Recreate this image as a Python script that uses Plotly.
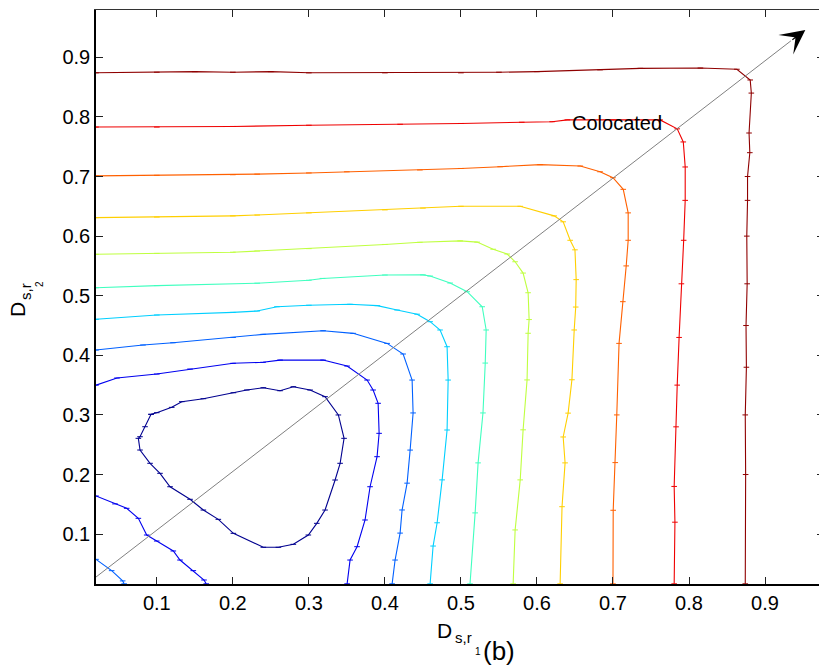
import plotly.graph_objects as go

# ---- contour paths (x = D_s,r1, y = D_s,r2), one list pair per level ----
lvl10_x = [0.02, 0.10, 0.15, 0.20, 0.25, 0.30, 0.40, 0.50, 0.55, 0.60, 0.683, 0.736, 0.815, 0.863,
           0.8805, 0.882, 0.879, 0.880, 0.877, 0.877, 0.876, 0.8765, 0.875, 0.8755, 0.874, 0.8745, 0.874]
lvl10_y = [0.874, 0.875, 0.876, 0.875, 0.876, 0.874, 0.874, 0.874, 0.875, 0.876, 0.879, 0.8815, 0.882, 0.880,
           0.862, 0.840, 0.773, 0.740, 0.700, 0.660, 0.600, 0.520, 0.450, 0.380, 0.300, 0.200, 0.0166]

lvl9_x = [0.02, 0.10, 0.20, 0.30, 0.42, 0.50, 0.58, 0.62, 0.64, 0.70, 0.762, 0.7845, 0.7925, 0.795,
          0.795, 0.793, 0.790, 0.787, 0.7845, 0.783, 0.7805, 0.7815, 0.7805]
lvl9_y = [0.783, 0.783, 0.784, 0.786, 0.7876, 0.789, 0.791, 0.792, 0.795, 0.795, 0.795, 0.780, 0.758, 0.716,
          0.660, 0.593, 0.520, 0.430, 0.350, 0.280, 0.180, 0.120, 0.0166]

lvl8_x = [0.02, 0.10, 0.20, 0.232, 0.30, 0.35, 0.446, 0.50, 0.5516, 0.604, 0.657, 0.683, 0.700, 0.7135,
          0.720, 0.720, 0.7174, 0.713, 0.708, 0.705, 0.703, 0.7003, 0.700]
lvl8_y = [0.701, 0.702, 0.703, 0.704, 0.706, 0.708, 0.711, 0.7135, 0.7165, 0.720, 0.7176, 0.708, 0.698, 0.6785,
          0.639, 0.593, 0.550, 0.490, 0.420, 0.300, 0.220, 0.140, 0.0166]

lvl7_x = [0.02, 0.10, 0.20, 0.232, 0.30, 0.40, 0.45, 0.50, 0.578, 0.6226, 0.6345, 0.6437, 0.650, 0.6516,
          0.651, 0.649, 0.646, 0.641, 0.6345, 0.637, 0.633, 0.6305]
lvl7_y = [0.631, 0.632, 0.634, 0.6354, 0.639, 0.644, 0.647, 0.650, 0.650, 0.634, 0.624, 0.593, 0.577, 0.527,
          0.481, 0.4425, 0.359, 0.303, 0.263, 0.2195, 0.146, 0.0166]

lvl6_x = [0.02, 0.10, 0.20, 0.232, 0.30, 0.40, 0.446, 0.499, 0.5213, 0.5424, 0.5608, 0.5713, 0.5818,
          0.5884, 0.5897, 0.5884, 0.587, 0.5818, 0.578, 0.5713, 0.5687]
lvl6_y = [0.5695, 0.571, 0.573, 0.575, 0.579, 0.586, 0.5896, 0.592, 0.590, 0.578, 0.570, 0.557, 0.538,
          0.505, 0.460, 0.437, 0.3587, 0.275, 0.191, 0.107, 0.0166]

lvl5_x = [0.02, 0.10, 0.232, 0.30, 0.318, 0.40, 0.45, 0.4595, 0.4858, 0.5082, 0.528, 0.5332, 0.532,
          0.529, 0.5226, 0.5187, 0.512]
lvl5_y = [0.5134, 0.517, 0.521, 0.526, 0.529, 0.5347, 0.535, 0.533, 0.5213, 0.5067, 0.4815, 0.4425, 0.387,
          0.3033, 0.2195, 0.1356, 0.0166]

lvl4_x = [0.02, 0.10, 0.20, 0.232, 0.258, 0.30, 0.354, 0.39, 0.416, 0.4424, 0.4595, 0.4726, 0.4818,
          0.4832, 0.4818, 0.4753, 0.4687, 0.4634, 0.4595]
lvl4_y = [0.4604, 0.4676, 0.472, 0.4743, 0.4815, 0.484, 0.4856, 0.4833, 0.476, 0.469, 0.4564, 0.4425, 0.4144,
          0.3585, 0.2747, 0.191, 0.119, 0.080, 0.0166]

lvl3_x = [0.02, 0.0818, 0.1213, 0.2003, 0.2397, 0.3187, 0.3582, 0.4029, 0.424, 0.4358, 0.4371, 0.4332,
          0.4292, 0.4226, 0.420, 0.4134, 0.4095]
lvl3_y = [0.4089, 0.4173, 0.4211, 0.430, 0.4352, 0.4413, 0.4369, 0.420, 0.4022, 0.3585, 0.3033, 0.241,
          0.1855, 0.1405, 0.1017, 0.0565, 0.0166]

lvl2_x = [0.02, 0.0476, 0.10, 0.1437, 0.2003, 0.2397, 0.2621, 0.3187, 0.3503, 0.3766, 0.3845, 0.3911,
          0.3924, 0.3897, 0.3805, 0.3739, 0.3634, 0.3542, 0.3503]
lvl2_y = [0.350, 0.3619, 0.3686, 0.377, 0.3866, 0.3883, 0.392, 0.392, 0.382, 0.3585, 0.3418, 0.3195,
          0.2691, 0.2299, 0.1795, 0.1237, 0.0789, 0.0565, 0.0166]

# closed loop around the minimum
lvl1_x = [0.0924, 0.0999, 0.1196, 0.1328, 0.1612, 0.2007, 0.2183, 0.2401, 0.2621, 0.2796, 0.3016, 0.3213,
          0.3388, 0.3463, 0.3411, 0.3345, 0.3213, 0.3104, 0.2993, 0.2796, 0.2599, 0.2401, 0.2007, 0.1809,
          0.1612, 0.1437, 0.1174, 0.1042, 0.0911, 0.0779, 0.0757, 0.0779, 0.0845, 0.0924]
lvl1_y = [0.301, 0.3037, 0.3127, 0.3222, 0.3272, 0.3372, 0.3418, 0.3456, 0.3406, 0.3473, 0.3418, 0.3306,
          0.2999, 0.2607, 0.2188, 0.1908, 0.1404, 0.1181, 0.0985, 0.0829, 0.0779, 0.0779, 0.1013, 0.1248,
          0.1404, 0.1584, 0.1795, 0.2020, 0.2188, 0.2411, 0.2607, 0.2634, 0.2802, 0.301]

# levels rising again toward the origin corner
lvl2b_x = [0.02, 0.045, 0.0604, 0.0757, 0.0867, 0.0999, 0.1217, 0.1305, 0.148, 0.1621, 0.165]
lvl2b_y = [0.1639, 0.1507, 0.1433, 0.1265, 0.0985, 0.0884, 0.0717, 0.0565, 0.0387, 0.023, 0.0166]

lvl3b_x = [0.02, 0.0406, 0.0551, 0.057]
lvl3b_y = [0.0577, 0.0387, 0.0215, 0.0166]

levels = [
    (lvl1_x, lvl1_y, "#00008f"),
    (lvl2_x, lvl2_y, "#0000ef"),
    (lvl2b_x, lvl2b_y, "#0000ef"),
    (lvl3_x, lvl3_y, "#0060ff"),
    (lvl3b_x, lvl3b_y, "#0060ff"),
    (lvl4_x, lvl4_y, "#00cfff"),
    (lvl5_x, lvl5_y, "#40ffbf"),
    (lvl6_x, lvl6_y, "#bfff40"),
    (lvl7_x, lvl7_y, "#ffcf00"),
    (lvl8_x, lvl8_y, "#ff6000"),
    (lvl9_x, lvl9_y, "#ef0000"),
    (lvl10_x, lvl10_y, "#8f0000"),
]

tick_vals = [0.1, 0.2, 0.3, 0.4, 0.5, 0.6, 0.7, 0.8, 0.9]
tick_text = ["0.1", "0.2", "0.3", "0.4", "0.5", "0.6", "0.7", "0.8", "0.9"]
x_range = [0.02, 0.971]
y_range = [0.0163, 0.9794]

# colocated direction (diagonal reference arrow)
diag_start = (0.02, 0.028)
diag_tip = (0.953, 0.946)
diag_tail = (0.934, 0.9276)

FONT = "Liberation Sans, Arial, sans-serif"
W, H = 819, 666
L, R, T, B = 96, 0, 10, 82

fig = go.Figure()
for xs, ys, col in levels:
    fig.add_trace(go.Scatter(
        x=xs, y=ys, mode="lines+markers",
        line=dict(color=col, width=1.1),
        marker=dict(symbol="line-ew", size=4, color=col, line=dict(color=col, width=1)),
        showlegend=False, hoverinfo="skip"))

# empty trace that carries the mirrored top / right axes
fig.add_trace(go.Scatter(x=[], y=[], xaxis="x2", yaxis="y2", showlegend=False, hoverinfo="skip"))

fig.add_shape(type="line", x0=diag_start[0], y0=diag_start[1], x1=diag_tail[0], y1=diag_tail[1],
              xref="x", yref="y", line=dict(color="#808080", width=1))
fig.add_annotation(x=diag_tip[0], y=diag_tip[1], ax=diag_tail[0], ay=diag_tail[1],
                   xref="x", yref="y", axref="x", ayref="y", text="", showarrow=True,
                   arrowhead=3, arrowsize=3.4, arrowwidth=1.2, arrowcolor="black", standoff=0)
fig.add_annotation(x=0.7055, y=0.79, xref="x", yref="y", text="Colocated", showarrow=False,
                   font=dict(family=FONT, size=20, color="black"))


def px2paper(px, py):
    return (px - L) / (W - L - R), (H - B - py) / (H - T - B)


def label(text, px, py, size, angle=0):
    xp, yp = px2paper(px, py)
    fig.add_annotation(x=xp, y=yp, xref="paper", yref="paper", text=text, showarrow=False,
                       xanchor="center", yanchor="middle", textangle=angle,
                       font=dict(family=FONT, size=size, color="black"))


# x-axis title: D_{s,r_1}(b)
label("D", 444, 631, 21)
label("s,r", 463, 638, 15)
label("1", 477.5, 651.5, 10)
label("(b)", 499, 651, 26)
# y-axis title: D_{s,r_2}
label("D", 18, 310, 21, -90)
label("s,r", 25, 292, 15, -90)
label("2", 39, 284, 10, -90)

axis_common = dict(tickvals=tick_vals, ticktext=tick_text, ticks="inside", ticklen=7,
                   tickcolor="#222", tickwidth=1, showgrid=False, zeroline=False,
                   tickfont=dict(family=FONT, size=20, color="black"))

fig.update_layout(
    width=W, height=H,
    margin=dict(l=L, r=R, t=T, b=B, pad=0),
    paper_bgcolor="white", plot_bgcolor="white",
    xaxis=dict(range=x_range, showline=True, linecolor="black", linewidth=1.5, **axis_common),
    yaxis=dict(range=y_range, showline=True, linecolor="black", linewidth=1.5, **axis_common),
    xaxis2=dict(range=x_range, overlaying="x", side="top", anchor="y2", showline=True,
                linecolor="#333", linewidth=1, tickvals=tick_vals, ticks="inside", ticklen=7,
                tickcolor="#222", showticklabels=False, showgrid=False, zeroline=False),
    yaxis2=dict(range=y_range, overlaying="y", side="right", anchor="x2", showline=False,
                tickvals=tick_vals, ticks="inside", ticklen=2, tickcolor="#222",
                showticklabels=False, showgrid=False, zeroline=False),
)

fig.write_html("out.html")
